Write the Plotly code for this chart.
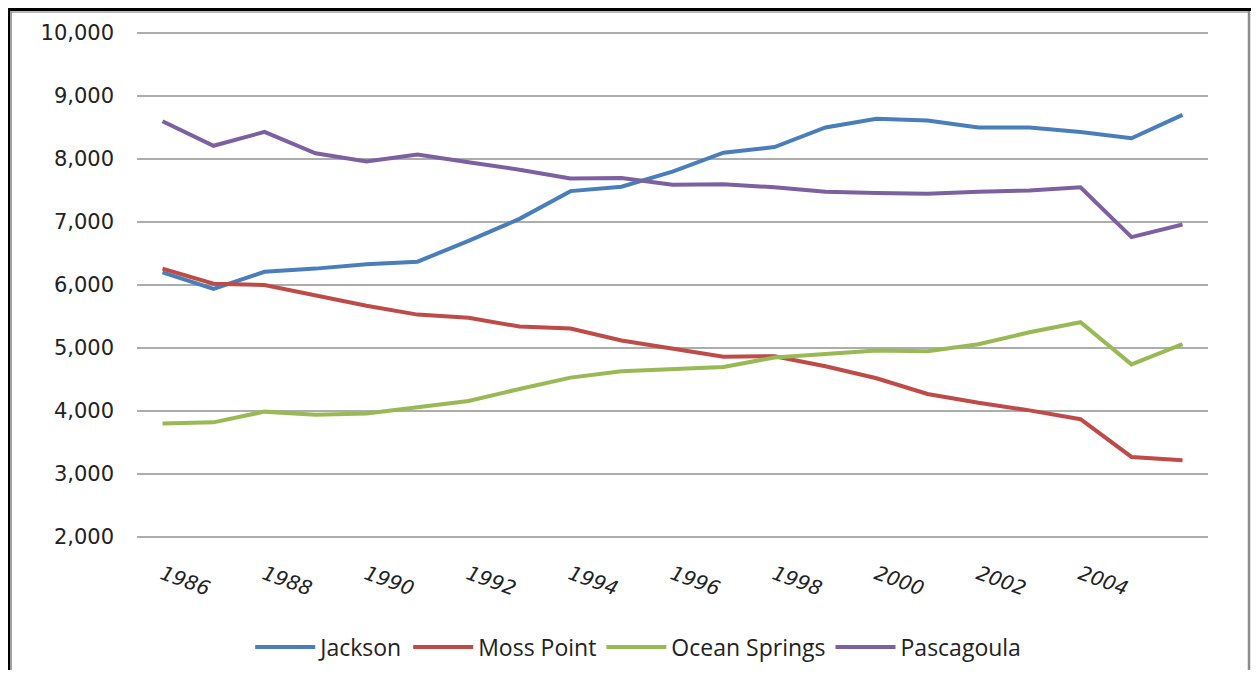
import plotly.graph_objects as go

# Population by city, 1986-2006
years = list(range(1986, 2007))

jackson = [6200, 5940, 6210, 6260, 6330, 6370, 6700, 7050, 7490, 7560, 7800,
           8100, 8190, 8500, 8640, 8610, 8500, 8500, 8430, 8330, 8700]
moss_point = [6260, 6020, 6000, 5830, 5670, 5530, 5480, 5340, 5310, 5120, 4990,
              4860, 4870, 4710, 4520, 4270, 4130, 4010, 3870, 3270, 3220]
ocean_springs = [3800, 3820, 3990, 3940, 3960, 4060, 4160, 4350, 4530, 4630, 4670,
                 4700, 4850, 4910, 4960, 4950, 5060, 5250, 5410, 4740, 5060]
pascagoula = [8600, 8210, 8430, 8090, 7960, 8070, 7950, 7830, 7690, 7700, 7590,
              7600, 7550, 7480, 7460, 7450, 7480, 7500, 7550, 6760, 6960]

x_ticks = list(range(1986, 2005, 2))
y_ticks = list(range(2000, 10001, 1000))

series = [
    ("Jackson", jackson, "#4A7EBB"),
    ("Moss Point", moss_point, "#BE4B48"),
    ("Ocean Springs", ocean_springs, "#98B954"),
    ("Pascagoula", pascagoula, "#7D60A0"),
]

# page body has an 8px margin, so the figure is sized to fit inside it
W, H = 1243, 662

fig = go.Figure()
for name, vals, col in series:
    fig.add_trace(go.Scatter(x=years, y=vals, name=name, mode="lines",
                             line=dict(color=col, width=4)))

fig.update_layout(
    width=W, height=H,
    margin=dict(l=0, r=0, t=0, b=0, autoexpand=False),
    paper_bgcolor="white", plot_bgcolor="white",
    showlegend=True,
    legend=dict(orientation="h", x=0.507, xanchor="center", y=1 - 639 / H, yanchor="middle",
                font=dict(family="Open Sans", size=23, color="#222222"),
                itemwidth=60, traceorder="normal"),
    xaxis=dict(domain=[129 / W, 1200 / W], range=[1985.5, 2006.5], automargin=False,
               tickvals=x_ticks, ticktext=[str(t) for t in x_ticks],
               tickangle=20, showgrid=False, zeroline=False, showline=False,
               ticklabelstandoff=20,
               tickfont=dict(family="DejaVu Sans", size=20, style="italic", color="#222222")),
    yaxis=dict(domain=[1 - 530 / H, 1 - 24 / H], range=[1984, 10016], automargin=False,
               tickvals=y_ticks, tickformat=",d", showgrid=True,
               gridcolor="#ADADAD", gridwidth=1.5, zeroline=False, showline=False,
               ticklabelstandoff=22,
               tickfont=dict(family="DejaVu Sans", size=21, color="#222222")),
    shapes=[
        # frame of the original chart image
        dict(type="line", xref="paper", yref="paper", x0=0, x1=1, y0=1 - 1.5 / H, y1=1 - 1.5 / H,
             line=dict(color="black", width=3)),
        dict(type="line", xref="paper", yref="paper", x0=1 / W, x1=1 / W, y0=0, y1=1,
             line=dict(color="black", width=2)),
        dict(type="line", xref="paper", yref="paper", x0=3 / W, x1=3 / W, y0=0, y1=1 - 3 / H,
             line=dict(color="#A0A0A0", width=2)),
        dict(type="line", xref="paper", yref="paper", x0=3 / W, x1=1241 / W, y0=1 - 4 / H, y1=1 - 4 / H,
             line=dict(color="#A0A0A0", width=1.5)),
        dict(type="line", xref="paper", yref="paper", x0=1241 / W, x1=1241 / W, y0=0, y1=1 - 3 / H,
             line=dict(color="#8C8C8C", width=2.5)),
    ],
)

fig.write_html("out.html")
